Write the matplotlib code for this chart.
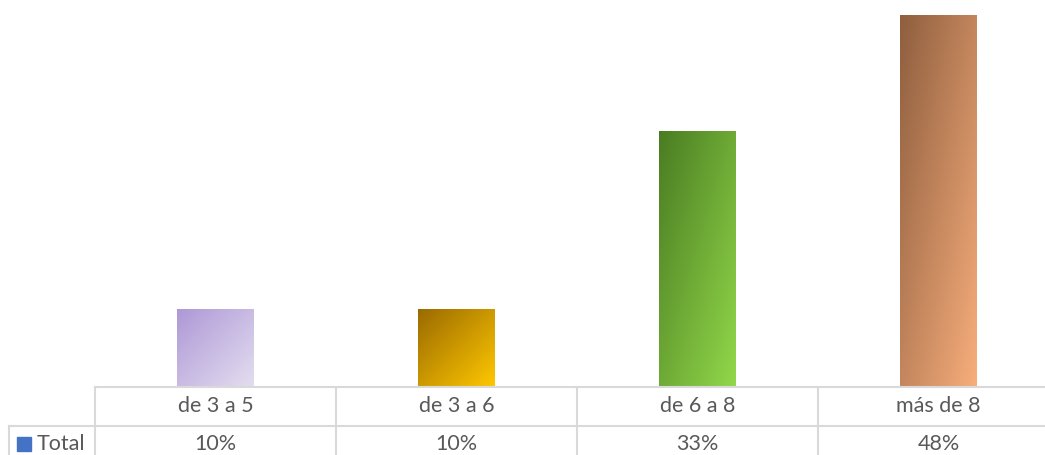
import numpy as np
import matplotlib
matplotlib.use('Agg')
import matplotlib.pyplot as plt
import matplotlib.transforms as mtransforms
from matplotlib.colors import to_rgb

# data
categories = ['de 3 a 5', 'de 3 a 6', 'de 6 a 8', 'más de 8']
values = [10, 10, 33, 48]
value_labels = ['10%', '10%', '33%', '48%']
series_name = 'Total'

# gradient colours (top-left -> bottom-right)
grad_start = ['#ae98d6', '#9a6a00', '#4a7c22', '#8e5e3e']
grad_end = ['#e4def0', '#ffc800', '#92d84a', '#f8ae7c']

plt.rcParams['font.family'] = ['Lato', 'DejaVu Sans']
text_color = '#595959'
grid_color = '#d9d9d9'
fs = 15.5

W, H = 1045, 455
fig = plt.figure(figsize=(W / 100, H / 100), dpi=100)
col_w = 241
ax = fig.add_axes([95 / W, 68 / H, 4 * col_w / W, 387 / H])
ax.set_xlim(-0.5, 3.5)
ax.set_ylim(0, 49.9)
ax.axis('off')

x = np.arange(len(categories))
bars = ax.bar(x, values, width=77 / col_w, color='none', edgecolor='none')

# gradient fill, 45 deg in bar coordinates
n = 200
u, v = np.meshgrid(np.linspace(0, 1, n), np.linspace(0, 1, n))
t = (u + v) / 2
for bar, c0, c1 in zip(bars, grad_start, grad_end):
    c0 = np.array(to_rgb(c0))
    c1 = np.array(to_rgb(c1))
    img = c0[None, None, :] * (1 - t[..., None]) + c1[None, None, :] * t[..., None]
    x0, y0 = bar.get_x(), bar.get_y()
    x1, y1 = x0 + bar.get_width(), y0 + bar.get_height()
    im = ax.imshow(img, extent=(x0, x1, y0, y1), origin='upper', aspect='auto',
                   interpolation='bilinear', zorder=2)
    im.set_clip_path(bar)

# data table below the plot
trans = mtransforms.blended_transform_factory(ax.transData, ax.transAxes)
row_h = 39 / 387
left_hdr = -0.5 + (9 - 95) / col_w
lw = 1.5
ax.plot([-0.5, 3.5], [0, 0], color=grid_color, lw=lw, transform=trans, clip_on=False)
ax.plot([left_hdr, 3.5], [-row_h, -row_h], color=grid_color, lw=lw, transform=trans, clip_on=False)
ax.plot([left_hdr, 3.5], [-2 * row_h, -2 * row_h], color=grid_color, lw=lw, transform=trans, clip_on=False)
for xb in np.arange(-0.5, 4.0, 1.0):
    ax.plot([xb, xb], [0, -2 * row_h], color=grid_color, lw=lw, transform=trans, clip_on=False)
ax.plot([left_hdr, left_hdr], [-row_h, -2 * row_h], color=grid_color, lw=lw, transform=trans, clip_on=False)

for xi, cat, lab in zip(x, categories, value_labels):
    ax.text(xi, -0.5 * row_h, cat, transform=trans, ha='center', va='center',
            fontsize=fs, color=text_color)
    ax.text(xi, -1.5 * row_h + 0.005, lab, transform=trans, ha='center', va='center',
            fontsize=fs, color=text_color)

# legend key + series name
key_x = -0.5 + (24.5 - 95) / col_w
ax.plot([key_x], [-1.5 * row_h + 0.005], marker='s', ms=9.4, color='#4472c4',
        transform=trans, clip_on=False, linestyle='none')
ax.text(-0.5 + (37 - 95) / col_w, -1.5 * row_h + 0.005, series_name, transform=trans,
        ha='left', va='center', fontsize=fs, color=text_color)

fig.savefig('out.png', dpi=100)
